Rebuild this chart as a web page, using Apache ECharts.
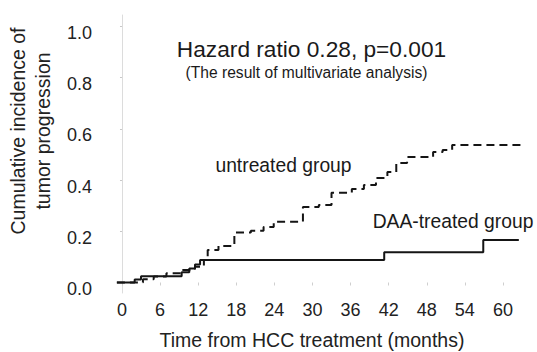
<!DOCTYPE html>
<html>
<head>
<meta charset="utf-8">
<script src="https://cdn.jsdelivr.net/npm/echarts@6/dist/echarts.min.js"></script>
<style>
html,body{margin:0;padding:0;background:#fff;}
#chart{width:537px;height:352px;}
</style>
</head>
<body>
<div id="chart"></div>
<script>
// Data (months, cumulative incidence)
const untreatedMonths = [-0.8, 3.3, 5, 7, 9.5, 11.5, 12.9, 13.5, 15.2, 17.7, 20.3, 22.3, 23.9, 28.5, 31, 33, 36.2, 38.1, 40, 41.8, 43.2, 44.9, 49, 50.5, 52, 62.8];
const untreatedIncidence = [0, 0.0125, 0.023, 0.036, 0.049, 0.062, 0.088, 0.127, 0.143, 0.195, 0.202, 0.217, 0.2375, 0.295, 0.303, 0.351, 0.365, 0.381, 0.408, 0.432, 0.467, 0.49, 0.51, 0.518, 0.537, 0.537];
const daaMonths = [-0.8, 2, 3, 9.4, 10.6, 11.5, 12.3, 41.3, 56.9, 62.5];
const daaIncidence = [0, 0.012, 0.024, 0.04, 0.055, 0.07, 0.088, 0.118, 0.166, 0.166];
const xTicks = [0, 6, 12, 18, 24, 30, 36, 42, 48, 54, 60];
const yTicks = [0, 0.2, 0.4, 0.6, 0.8, 1.0];

const titleText = 'Hazard ratio 0.28, p=0.001';
const subtitleText = '(The result of multivariate analysis)';
const xTitle = 'Time from HCC treatment (months)';
const yTitle = 'Cumulative incidence of\ntumor progression';
const untreatedLabel = 'untreated group';
const daaLabel = 'DAA-treated group';

const FONT = '"Liberation Sans", Arial, Helvetica, sans-serif';
const zip = (a, b) => a.map((v, i) => [v, b[i]]);

const chart = echarts.init(document.getElementById('chart'), null, {renderer: 'svg'});
chart.setOption({
  animation: false,
  backgroundColor: '#ffffff',
  grid: {left: 104, right: 15, top: 15, bottom: 59, containLabel: false},
  xAxis: {
    type: 'value',
    min: -2.83,
    max: 63,
    axisLine: {show: false},
    splitLine: {show: false},
    axisTick: {show: true, customValues: xTicks, length: 3, lineStyle: {color: '#cfcfcf', width: 1}},
    axisLabel: {
      customValues: xTicks,
      margin: 8,
      color: '#222',
      fontSize: 18,
      fontFamily: FONT,
      formatter: v => String(Math.round(v))
    }
  },
  yAxis: {
    type: 'value',
    min: -0.041,
    max: 1.045,
    axisLine: {show: true, lineStyle: {color: '#dcdcdc', width: 1}},
    splitLine: {show: false},
    axisTick: {show: true, customValues: yTicks, length: 2, lineStyle: {color: '#c8c8c8', width: 1}},
    axisLabel: {
      customValues: yTicks,
      margin: 12,
      color: '#222',
      fontSize: 18,
      fontFamily: FONT,
      verticalAlign: 'top',
      lineHeight: 13,
      formatter: v => v.toFixed(1)
    }
  },
  series: [
    {
      type: 'line',
      step: 'end',
      data: zip(untreatedMonths, untreatedIncidence),
      showSymbol: false,
      lineStyle: {color: '#151515', width: 2, type: [8, 5]},
      z: 3
    },
    {
      type: 'line',
      step: 'end',
      data: zip(daaMonths, daaIncidence),
      showSymbol: false,
      lineStyle: {color: '#151515', width: 2, type: 'solid'},
      z: 4
    }
  ],
  graphic: [
    {type: 'text', x: 311.5, y: 48.5, style: {text: titleText, font: '22.7px ' + FONT, fill: '#1a1a1a', textAlign: 'center', textVerticalAlign: 'middle'}},
    {type: 'text', x: 306.5, y: 72, style: {text: subtitleText, font: '15.6px ' + FONT, fill: '#1a1a1a', textAlign: 'center', textVerticalAlign: 'middle'}},
    {type: 'text', x: 312, y: 340, style: {text: xTitle, font: '19.5px ' + FONT, fill: '#222', textAlign: 'center', textVerticalAlign: 'middle'}},
    {type: 'text', x: 30.5, y: 131, rotation: Math.PI / 2, style: {text: yTitle, font: '19.5px ' + FONT, lineHeight: 25, fill: '#222', textAlign: 'center', textVerticalAlign: 'middle'}},
    {type: 'text', x: 283.5, y: 165, style: {text: untreatedLabel, font: '19.3px ' + FONT, fill: '#1a1a1a', textAlign: 'center', textVerticalAlign: 'middle'}},
    {type: 'text', x: 453, y: 221, style: {text: daaLabel, font: '19.3px ' + FONT, fill: '#1a1a1a', textAlign: 'center', textVerticalAlign: 'middle'}}
  ]
});
</script>
</body>
</html>
